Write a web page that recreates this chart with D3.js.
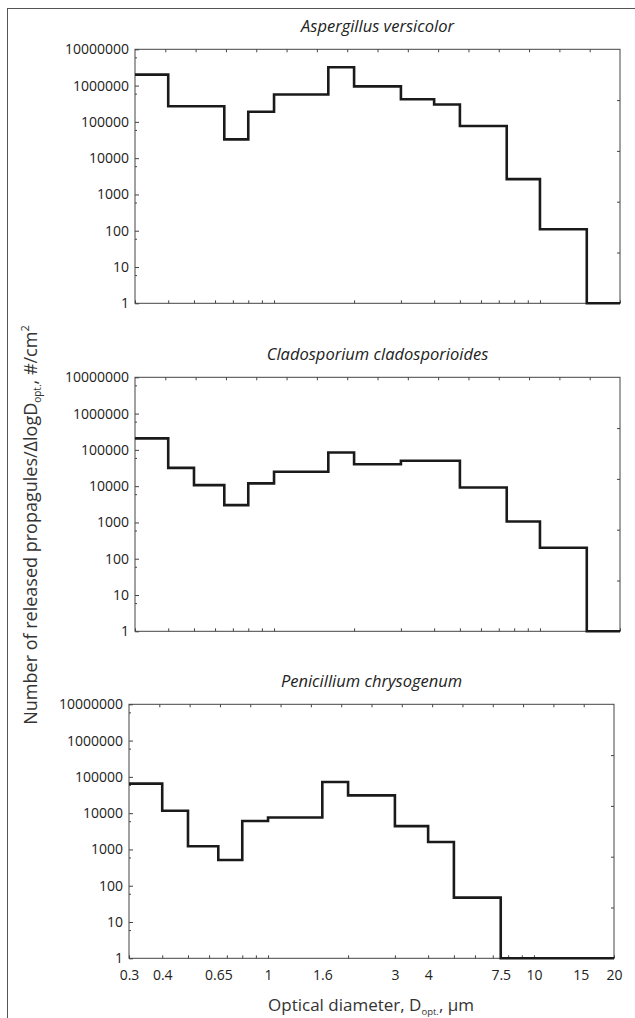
<!DOCTYPE html>
<html>
<head>
<meta charset="utf-8">
<script src="https://cdn.jsdelivr.net/npm/d3@7"></script>
<style>
    body { margin: 0; background: #fff; }
    text { font-family: "Open Sans", "Noto Sans", sans-serif; fill: #222; }
    .axis path, .axis line { stroke: #444; }
</style>
</head>
<body>
<svg id="chart" width="635" height="1018"></svg>
<script>
// bin edges of the optical particle counter, in µm
const binEdges = [0.3, 0.4, 0.5, 0.65, 0.8, 1, 1.6, 2, 3, 4, 5, 7.5, 10, 15, 20];

// released propagules / dlogD, #/cm2, one value per bin
const aspergillus = [2.0e6, 2.7e5, 2.7e5, 3.3e4, 1.9e5, 5.7e5, 3.2e6, 9.5e5, 4.2e5, 3.0e5, 7.7e4, 2650, 110, 1];
const cladosporium = [2.07e5, 3.2e4, 1.07e4, 3000, 1.19e4, 2.5e4, 8.5e4, 4.0e4, 5.0e4, 5.0e4, 9200, 1060, 200, 1];
const penicillium = [6.5e4, 1.16e4, 1230, 510, 6100, 7600, 7.2e4, 3.1e4, 4400, 1600, 47, 1, 1, 1];

const titles = ["Aspergillus versicolor", "Cladosporium cladosporioides", "Penicillium chrysogenum"];

const yTickValues = [1, 10, 100, 1000, 10000, 100000, 1000000, 10000000];
const yMinorTickValues = [6, 60, 600, 6000, 60000, 600000, 6000000];
const xLabelValues = [0.3, 0.4, 0.65, 1, 1.6, 3, 4, 7.5, 10, 15, 20];

let chart = d3.select("#chart");

// outer frame (clipped by the page on the right and bottom)
chart.append("rect")
    .attr("x", 7.5).attr("y", 8.5)
    .attr("width", 700).attr("height", 1100)
    .style("fill", "none").style("stroke", "#555").style("stroke-width", 1);

function drawPanel(values, title, left, top, showXLabels) {
    let width = 485,
        height = 254;

    let x = d3.scaleLog().domain([0.3, 20]).range([0, width]);
    let y = d3.scaleLog().domain([1, 1e7]).range([height, 0]);

    let g = chart.append("g")
        .attr("transform", "translate(" + left + "," + top + ")");

    g.append("text")
        .attr("x", width / 2)
        .attr("y", -17)
        .attr("text-anchor", "middle")
        .style("font-style", "italic")
        .style("font-size", "16.5px")
        .text(title);

    // box
    g.append("rect")
        .attr("width", width).attr("height", height)
        .style("fill", "none").style("stroke", "#444").style("stroke-width", 1);

    // left log axis
    let yAxis = d3.axisLeft(y)
        .tickValues(yTickValues)
        .tickFormat(d3.format("d"))
        .tickSize(-4)
        .tickPadding(6);

    g.append("g")
        .attr("class", "axis axis--y")
        .call(yAxis)
        .call(a => a.select(".domain").remove())
        .call(a => a.selectAll("text").style("font-size", "14px").style("fill", "#222"));

    g.append("g")
        .attr("class", "axis")
        .call(d3.axisLeft(y).tickValues(yMinorTickValues).tickFormat("").tickSize(-2))
        .call(a => a.select(".domain").remove());

    // bottom log ticks
    g.append("g")
        .attr("class", "axis axis--x")
        .attr("transform", "translate(0," + height + ")")
        .call(d3.axisBottom(x).tickValues(x.ticks()).tickFormat("").tickSize(-3))
        .call(a => a.select(".domain").remove());

    if (showXLabels) {
        g.append("g")
            .attr("class", "axis")
            .attr("transform", "translate(0," + height + ")")
            .call(d3.axisBottom(x).tickValues(xLabelValues).tickFormat(d3.format("")).tickSize(0).tickPadding(12))
            .call(a => a.select(".domain").remove())
            .call(a => a.selectAll("text").style("font-size", "14px").style("fill", "#222"));
    }

    // top and right ticks of the box
    let xTop = d3.scaleLinear().domain([0, 16]).range([0, width]);
    g.append("g")
        .attr("class", "axis")
        .call(d3.axisTop(xTop).tickValues(d3.range(1, 16)).tickFormat("").tickSize(-3))
        .call(a => a.select(".domain").remove());

    let yRight = d3.scaleLinear().domain([0, 5]).range([height, 0]);
    g.append("g")
        .attr("class", "axis")
        .attr("transform", "translate(" + width + ",0)")
        .call(d3.axisRight(yRight).tickValues(d3.range(1, 5)).tickFormat("").tickSize(-3))
        .call(a => a.select(".domain").remove());

    // step line
    let points = binEdges.map((e, i) => ({ edge: e, value: values[Math.min(i, values.length - 1)] }));

    let stepLine = d3.line()
        .curve(d3.curveStepAfter)
        .x(d => x(d.edge))
        .y(d => y(d.value));

    g.append("path")
        .datum(points)
        .attr("d", stepLine)
        .style("fill", "none")
        .style("stroke", "#1a1a1a")
        .style("stroke-width", "2.6px");
}

drawPanel(aspergillus, titles[0], 135, 49.3, false);
drawPanel(cladosporium, titles[1], 135, 377.3, false);
drawPanel(penicillium, titles[2], 129, 704.3, true);

// y axis title
let yTitle = chart.append("text")
    .attr("transform", "translate(37,525) rotate(-90)")
    .attr("text-anchor", "middle")
    .style("font-size", "18px")
    .style("fill", "#333");
yTitle.append("tspan").text("Number of released propagules/\u0394logD");
yTitle.append("tspan").attr("dy", 4).style("font-size", "10px").text("opt.");
yTitle.append("tspan").attr("dy", -4).text(", #/cm");
yTitle.append("tspan").attr("dy", -8).style("font-size", "11px").text("2");

// x axis title
let xTitle = chart.append("text")
    .attr("x", 371)
    .attr("y", 1011)
    .attr("text-anchor", "middle")
    .style("font-size", "17px")
    .style("fill", "#333");
xTitle.append("tspan").text("Optical diameter, D");
xTitle.append("tspan").attr("dy", 4).style("font-size", "9.5px").text("opt.");
xTitle.append("tspan").attr("dy", -4).text(", \u00b5m");
</script>
</body>
</html>
